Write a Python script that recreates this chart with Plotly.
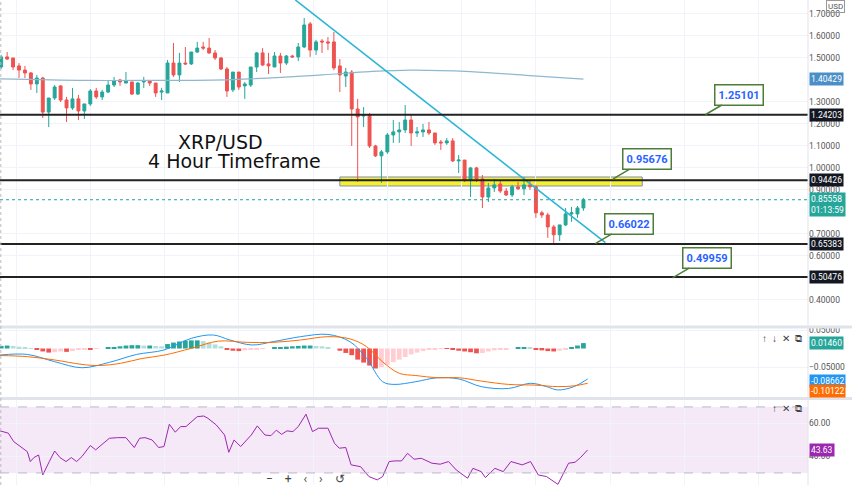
import plotly.graph_objects as go
from plotly.subplots import make_subplots

# ---------------- candles (4h XRP/USD) ----------------
OPEN = [1.459, 1.505, 1.500, 1.464, 1.445, 1.432, 1.382, 1.409, 1.254, 1.318,
        1.373, 1.309, 1.273, 1.314, 1.259, 1.291, 1.350, 1.323, 1.345, 1.377,
        1.400, 1.386, 1.391, 1.336, 1.391, 1.395, 1.386, 1.345, 1.341, 1.477,
        1.423, 1.477, 1.473, 1.527, 1.550, 1.545, 1.523, 1.500, 1.450, 1.355,
        1.436, 1.373, 1.377, 1.459, 1.523, 1.473, 1.459, 1.509, 1.477, 1.509,
        1.505, 1.550, 1.655, 1.536, 1.577, 1.573, 1.573, 1.464, 1.418, 1.436,
        1.268, 1.236, 1.241, 1.100, 1.055, 1.073, 1.150, 1.164, 1.173, 1.218,
        1.159, 1.164, 1.173, 1.159, 1.118, 1.114, 1.123, 1.032, 1.036, 0.945,
        1.000, 0.950, 0.868, 0.909, 0.927, 0.895, 0.877, 0.914, 0.905, 0.923,
        0.914, 0.796, 0.786, 0.732, 0.696, 0.741, 0.791, 0.791, 0.818]
HIGH = [1.514, 1.527, 1.500, 1.477, 1.464, 1.436, 1.423, 1.414, 1.318, 1.377,
        1.377, 1.323, 1.364, 1.332, 1.291, 1.359, 1.364, 1.355, 1.400, 1.414,
        1.405, 1.436, 1.391, 1.391, 1.414, 1.400, 1.386, 1.364, 1.491, 1.568,
        1.523, 1.550, 1.527, 1.573, 1.573, 1.591, 1.536, 1.505, 1.459, 1.436,
        1.436, 1.391, 1.459, 1.527, 1.545, 1.523, 1.527, 1.523, 1.514, 1.514,
        1.568, 1.682, 1.664, 1.582, 1.586, 1.595, 1.618, 1.495, 1.455, 1.445,
        1.314, 1.277, 1.250, 1.105, 1.082, 1.159, 1.218, 1.209, 1.286, 1.241,
        1.186, 1.200, 1.209, 1.159, 1.127, 1.136, 1.136, 1.059, 1.036, 1.005,
        1.005, 0.968, 0.932, 0.950, 0.945, 0.909, 0.923, 0.936, 0.959, 0.945,
        0.923, 0.805, 0.796, 0.741, 0.741, 0.818, 0.823, 0.827, 0.864]
LOW = [1.450, 1.491, 1.445, 1.409, 1.409, 1.355, 1.341, 1.227, 1.186, 1.309,
       1.300, 1.209, 1.264, 1.218, 1.223, 1.282, 1.314, 1.309, 1.341, 1.368,
       1.373, 1.386, 1.332, 1.332, 1.364, 1.373, 1.323, 1.309, 1.341, 1.414,
       1.391, 1.468, 1.468, 1.523, 1.536, 1.518, 1.491, 1.445, 1.323, 1.345,
       1.355, 1.314, 1.368, 1.436, 1.464, 1.427, 1.459, 1.432, 1.468, 1.500,
       1.486, 1.545, 1.505, 1.514, 1.523, 1.536, 1.445, 1.345, 1.368, 1.100,
       0.936, 1.186, 1.091, 1.050, 0.932, 1.064, 1.114, 1.114, 1.159, 1.100,
       1.141, 1.141, 1.150, 1.105, 1.082, 1.105, 1.027, 0.977, 0.936, 0.868,
       0.936, 0.818, 0.845, 0.891, 0.886, 0.873, 0.868, 0.900, 0.877, 0.900,
       0.773, 0.773, 0.682, 0.659, 0.668, 0.736, 0.755, 0.773, 0.805]
CLOSE = [1.505, 1.495, 1.459, 1.445, 1.432, 1.382, 1.409, 1.254, 1.318, 1.368,
         1.309, 1.273, 1.314, 1.259, 1.291, 1.350, 1.323, 1.345, 1.377, 1.395,
         1.391, 1.395, 1.336, 1.386, 1.395, 1.386, 1.341, 1.350, 1.477, 1.423,
         1.477, 1.473, 1.527, 1.545, 1.545, 1.523, 1.500, 1.450, 1.350, 1.436,
         1.368, 1.382, 1.459, 1.523, 1.468, 1.464, 1.509, 1.477, 1.509, 1.505,
         1.550, 1.650, 1.536, 1.573, 1.573, 1.568, 1.455, 1.423, 1.436, 1.268,
         1.232, 1.241, 1.100, 1.055, 1.073, 1.150, 1.164, 1.173, 1.218, 1.159,
         1.164, 1.173, 1.159, 1.114, 1.114, 1.123, 1.032, 1.036, 0.945, 1.000,
         0.950, 0.868, 0.909, 0.923, 0.895, 0.877, 0.914, 0.905, 0.923, 0.914,
         0.796, 0.786, 0.732, 0.696, 0.741, 0.791, 0.796, 0.818, 0.856]
IDX = list(range(1, len(CLOSE) + 1))

# moving average (sampled)
MA_X = [0.8, 15, 25, 40, 55, 63, 70, 80, 90, 99]
MA_Y = [1.405, 1.398, 1.398, 1.402, 1.423, 1.438, 1.445, 1.438, 1.420, 1.404]

# drawings
LEVELS = [1.24203, 0.94426, 0.65383, 0.50476]
ZONE = [0.918, 0.959]
TREND_X = [50.5, 102.7]
TREND_Y = [1.764, 0.660]
CALLOUTS = [("1.25101", 119.5, 1.242), ("0.95676", 104, 0.950),
            ("0.66022", 101, 0.656), ("0.49959", 114, 0.500)]

# MACD
HIST = [0.007, 0.008, 0.007, 0.005, 0.003, 0.001,
        -0.004, -0.008, -0.011, -0.010, -0.008, -0.009, -0.007, -0.004, -0.002,
        -0.002, -0.001, 0.000,
        0.002, 0.004, 0.006, 0.008, 0.009, 0.009, 0.008, 0.008, 0.007, 0.006,
        0.012, 0.016, 0.019, 0.021, 0.022, 0.022, 0.020,
        0.016, 0.011, 0.006,
        -0.003, -0.006, -0.007, -0.005,
        -0.003, -0.002, -0.001, 0.000,
        0.002, 0.004, 0.005, 0.006, 0.007,
        0.008, 0.008, 0.007, 0.006, 0.004,
        0.000,
        -0.006, -0.012, -0.018, -0.030, -0.038, -0.046, -0.054,
        -0.050, -0.044, -0.037, -0.030, -0.023, -0.016, -0.011, -0.007,
        -0.004, -0.002, -0.001, -0.001,
        -0.003, -0.006, -0.008, -0.010,
        -0.013, -0.012, -0.008, -0.005, -0.003,
        -0.002, 0.000, 0.002,
        0.004, 0.003,
        -0.002, -0.005, -0.007, -0.008, -0.006,
        -0.003, 0.003, 0.008, 0.0146]
MACD_X = [0.8, 5.4, 10.0, 14.6, 19.2, 23.8, 28.4, 33.0, 36.7, 39.5, 43.2, 46.8, 51.4,
          56.0, 59.7, 62.5, 65.2, 67.1, 70.8, 74.4, 78.1, 81.8, 86.4, 90.1, 92.8,
          94.7, 97.4, 99.7]
MACD_Y = [-0.0176, -0.016, -0.0356, -0.052, -0.0374, -0.016, -0.004, 0.0275, 0.0365,
          0.023, 0.0095, 0.0185, 0.032, 0.038, 0.0185, -0.0266, -0.0896, -0.097,
          -0.0896, -0.079, -0.0825, -0.103, -0.108, -0.094, -0.103, -0.112, -0.103,
          -0.0825]
SIG_X = [0.8, 5.4, 10.0, 14.6, 17.4, 21.1, 24.7, 28.4, 33.0, 37.6, 42.2, 46.8, 51.4,
         56.0, 59.7, 62.5, 65.2, 68.0, 70.8, 74.4, 78.1, 81.8, 86.4, 91.0, 94.7,
         97.4, 99.7]
SIG_Y = [-0.019, -0.022, -0.031, -0.043, -0.046, -0.040, -0.027, -0.018, 0.0005,
         0.020, 0.0167, 0.0167, 0.023, 0.032, 0.026, 0.005, -0.036, -0.067, -0.073,
         -0.079, -0.079, -0.088, -0.097, -0.099, -0.103, -0.101, -0.094]

# RSI
RSI_X = [0.8, 2.2, 3.1, 4.5, 5.4, 5.9, 6.5, 7.3, 8.0, 9.1, 10.0, 10.9, 11.9, 12.8,
         13.7, 14.6, 16.0, 16.9, 18.3, 19.2, 20.6, 22.0, 23.4, 24.3, 25.2, 26.4,
         27.5, 28.4, 29.3, 30.3, 31.2, 32.1, 34.0, 35.1, 35.8, 37.2, 38.6, 39.3,
         40.2, 41.3, 43.1, 44.1, 45.4, 46.4, 47.3, 48.2, 49.1, 50.1, 51.0, 52.3,
         53.4, 54.4, 56.0, 57.1, 57.9, 59.0, 59.9, 61.5, 62.9, 64.3, 65.2, 66.3,
         67.3, 68.4, 69.4, 70.5, 71.7, 73.5, 74.9, 76.3, 77.6, 79.5, 80.4, 81.8,
         82.5, 84.1, 85.5, 86.8, 88.7, 90.1, 91.4, 92.8, 94.7, 96.5, 97.6, 98.5, 99.7]
RSI_Y = [55.5, 54.1, 49.0, 45.4, 42.9, 36.9, 39.3, 40.9, 28.8, 36.9, 43.3, 39.3,
         36.9, 39.3, 36.9, 40.0, 46.6, 44.0, 48.0, 51.0, 51.4, 51.4, 45.4, 51.0,
         51.4, 50.0, 45.4, 46.0, 59.5, 54.7, 58.1, 58.1, 64.1, 64.5, 63.1, 59.1,
         53.0, 42.5, 50.0, 46.0, 53.0, 58.5, 53.0, 52.6, 55.9, 53.4, 55.5, 55.05,
         58.1, 65.6, 55.05, 57.1, 57.1, 48.0, 45.0, 45.4, 34.9, 33.8, 27.8, 25.8,
         27.8, 36.9, 37.3, 37.3, 41.9, 38.3, 38.9, 35.9, 35.3, 36.9, 31.8, 26.8,
         32.8, 30.8, 27.2, 32.8, 30.8, 36.9, 34.9, 36.9, 28.8, 27.8, 23.1, 35.9,
         36.5, 39.3, 43.9]

GREEN, RED = "#26a69a", "#ef5350"
GRID = "#f0f3fa"

fig = make_subplots(rows=3, cols=1, shared_xaxes=True, vertical_spacing=0.01)

fig.add_trace(go.Candlestick(x=IDX, open=OPEN, high=HIGH, low=LOW, close=CLOSE,
                             increasing=dict(line=dict(color=GREEN, width=1), fillcolor=GREEN),
                             decreasing=dict(line=dict(color=RED, width=1), fillcolor=RED),
                             whiskerwidth=0, showlegend=False), row=1, col=1)
fig.add_trace(go.Scatter(x=MA_X, y=MA_Y, mode="lines", line=dict(color="#8fb8d0", width=1.2, shape="spline"),
                         showlegend=False, hoverinfo="skip"), row=1, col=1)
fig.add_trace(go.Scatter(x=TREND_X, y=TREND_Y, mode="lines", line=dict(color="#2bb5d6", width=1.6),
                         showlegend=False, hoverinfo="skip"), row=1, col=1)

# MACD histogram colours
hcol = []
for i, h in enumerate(HIST):
    prev = HIST[i - 1] if i else h
    if h >= 0:
        hcol.append(GREEN if h >= prev else "#b2dfdb")
    else:
        hcol.append(RED if h <= prev else "#ffcdd2")
fig.add_trace(go.Bar(x=IDX, y=HIST, marker=dict(color=hcol, line=dict(width=0)), width=0.8,
                     showlegend=False), row=2, col=1)
fig.add_trace(go.Scatter(x=MACD_X, y=MACD_Y, mode="lines", line=dict(color="#2196f3", width=1, shape="spline"),
                         showlegend=False), row=2, col=1)
fig.add_trace(go.Scatter(x=SIG_X, y=SIG_Y, mode="lines", line=dict(color="#ff6d00", width=1, shape="spline"),
                         showlegend=False), row=2, col=1)

fig.add_trace(go.Scatter(x=RSI_X, y=RSI_Y, mode="lines", line=dict(color="#9c27b0", width=1),
                         showlegend=False), row=3, col=1)

# zone, levels, RSI band
shapes = [dict(type="rect", xref="x", yref="y", x0=58, x1=108.9, y0=ZONE[0], y1=ZONE[1],
               fillcolor="#f5ef2c", line=dict(color="#7f8fc0", width=1), layer="below")]
for lv in LEVELS:
    shapes.append(dict(type="line", xref="x domain", yref="y", x0=0, x1=1, y0=lv, y1=lv,
                       line=dict(color="#222", width=2)))
shapes.append(dict(type="rect", xref="x3 domain", yref="y3", x0=0, x1=1, y0=30, y1=70,
                   fillcolor="rgba(156,39,176,0.10)", line=dict(width=0), layer="below"))
for v in (30, 70):
    shapes.append(dict(type="line", xref="x3 domain", yref="y3", x0=0, x1=1, y0=v, y1=v,
                       line=dict(color="#b8b8c8", width=1, dash="dash")))
shapes.append(dict(type="line", xref="x domain", yref="y", x0=0, x1=1, y0=0.8556, y1=0.8556,
                   line=dict(color="#26a69a", width=1, dash="dot")))
for yp in (1 - 327 / 485, 1 - 398.5 / 485):
    shapes.append(dict(type="line", xref="paper", yref="paper", x0=0, x1=1.06, y0=yp, y1=yp,
                       line=dict(color="#e0e3eb", width=3)))
shapes.append(dict(type="line", xref="paper", yref="paper", x0=1, x1=1, y0=0, y1=1,
                   line=dict(color="#e0e3eb", width=1)))
shapes.append(dict(type="line", xref="paper", yref="paper", x0=0.001, x1=0.001, y0=0, y1=1,
                   line=dict(color="#bbb", width=1, dash="dot")))

ann = []
for txt, xi, yv in CALLOUTS:
    ann.append(dict(x=xi, y=yv, xref="x", yref="y", text="<b>%s</b>" % txt, showarrow=True,
                    arrowhead=0, arrowcolor="#4e7d3a", arrowwidth=1.5, ax=34, ay=-20,
                    bgcolor="white", bordercolor="#4e7d3a", borderwidth=1.5, borderpad=3,
                    font=dict(color="#2962ff", size=11, family="Roboto")))
ann.append(dict(x=220 / 808, y=1 - 142 / 485, xref="paper", yref="paper", text="XRP/USD",
                xanchor="center", yanchor="middle",
                showarrow=False, font=dict(size=19, color="#111", family="DejaVu Sans")))
ann.append(dict(x=235 / 808, y=1 - 161 / 485, xref="paper", yref="paper", text="4 Hour Timeframe",
                xanchor="center", yanchor="middle",
                showarrow=False, font=dict(size=19, color="#111", family="DejaVu Sans")))

# right scale value boxes
boxes = [("1.40429", 1.40429, "y", "#4a8fc7"), ("1.24203", 1.24203, "y", "#131722"),
         ("0.94426", 0.94426, "y", "#131722"), ("0.85558<br>01:13:59", 0.835, "y", GREEN),
         ("0.65383", 0.65383, "y", "#131722"), ("0.50476", 0.50476, "y", "#131722"),
         ("0.01460", 0.0146, "y2", GREEN), ("-0.08662", -0.0866, "y2", "#2196f3"),
         ("-0.10122", -0.1145, "y2", "#ff6d00"), ("43.63", 43.63, "y3", "#9c27b0")]
for txt, yv, yr, col in boxes:
    ann.append(dict(x=1, y=yv, xref="paper", yref=yr, text=txt, showarrow=False, xanchor="left",
                    xshift=1, bgcolor=col, font=dict(color="white", size=8.5, family="Roboto"),
                    borderpad=1, align="left"))
ann.append(dict(x=1, y=1, xref="paper", yref="paper", text="USD", showarrow=False, xanchor="left",
                yanchor="top", xshift=18, font=dict(size=8, color="#555"), bordercolor="#999",
                borderwidth=1, borderpad=1))
for yp, t in ((1 - 338 / 485, "↑  ↓  ✕  ⧉"), (1 - 408 / 485, "↑  ✕  ⧉")):
    ann.append(dict(x=0.995, y=yp, xref="paper", yref="paper", text=t, showarrow=False,
                    xanchor="right", yanchor="middle", font=dict(size=10, color="#444")))
ann.append(dict(x=305 / 808, y=1 - 479 / 485, xref="paper", yref="paper",
                xanchor="center", yanchor="middle",
                text="−    +    ‹    ›    ↺", showarrow=False, font=dict(size=12, color="#444")))

fig.update_layout(width=852, height=485, margin=dict(l=0, r=44, t=0, b=0, autoexpand=False),
                  paper_bgcolor="white", plot_bgcolor="white", shapes=shapes, annotations=ann,
                  bargap=0.2, font=dict(family="Roboto", size=8.5, color="#555"), hovermode=False)
for ax in ("xaxis", "xaxis2", "xaxis3"):
    fig.layout[ax].update(range=[0.8, 136.8], showticklabels=False, showgrid=True, gridcolor=GRID,
                          tick0=16, dtick=12.5, zeroline=False, rangeslider=dict(visible=False))
fig.update_layout(
    yaxis=dict(domain=[1 - 325 / 485, 1], range=[0.286, 1.7636], side="right",
               tickvals=[0.4, 0.6, 0.7, 0.9, 1.0, 1.1, 1.2, 1.3, 1.5, 1.6, 1.7], tickformat=".5f",
               gridcolor=GRID, zeroline=False, ticks=""),
    yaxis2=dict(domain=[1 - 397 / 485, 1 - 328 / 485], range=[-0.131, 0.0554], side="right",
                tickvals=[0.05, -0.05], tickformat=".5f", gridcolor=GRID, zeroline=False),
    yaxis3=dict(domain=[0, 1 - 400 / 485], range=[22.7, 74.2], side="right",
                tickvals=[60, 40], tickformat=".2f", gridcolor=GRID, zeroline=False),
)

fig.write_html("out.html", config={"displayModeBar": False},
               post_script="document.body.style.margin='0px';")
